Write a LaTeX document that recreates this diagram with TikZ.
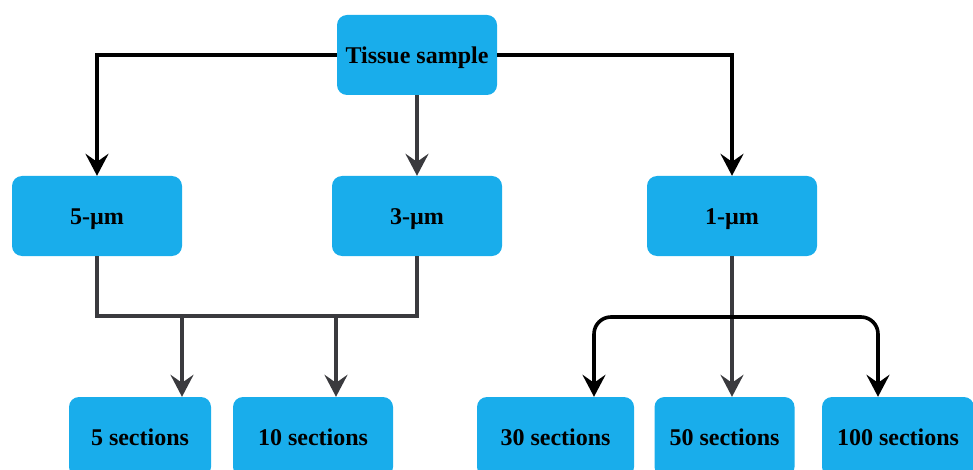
\documentclass[tikz,border=0pt]{standalone}
\usepackage{fontspec}
\setmainfont{Liberation Serif}
\usetikzlibrary{arrows.meta}
\definecolor{boxblue}{RGB}{25,173,235}
\definecolor{linegray}{RGB}{58,58,62}
\begin{document}
\begin{tikzpicture}[x=1pt,y=-1pt,
  box/.style={draw=none,fill=boxblue,rounded corners=10pt,minimum height=80pt,inner sep=0pt,
    text height=17pt,text depth=0pt,
    font=\fontsize{24}{28}\selectfont\bfseries,text=black},
  blackline/.style={draw=black,line width=3.6pt},
  grayline/.style={draw=linegray,line width=3.2pt},
  tip/.style={-{Stealth[length=22pt,width=23pt,inset=8pt]}}
]
\useasboundingbox (0,0) rectangle (973,470);
\node[box,minimum width=160pt] (tis) at (417,55) {Tissue sample};
\node[box,minimum width=170pt] (m5) at (97,216) {5-µm};
\node[box,minimum width=170pt] (m3) at (417,216) {3-µm};
\node[box,minimum width=170pt] (m1) at (732,216) {1-µm};
\node[box,minimum width=142pt] (s5) at (140,437) {5 sections};
\node[box,minimum width=160pt] (s10) at (313,437) {10 sections};
\node[box,minimum width=157pt] (s30) at (555.5,437) {30 sections};
\node[box,minimum width=140pt] (s50) at (724.5,437) {50 sections};
\node[box,minimum width=152pt] (s100) at (898,437) {100 sections};
% junction coordinates
\coordinate (jy) at (0,316);
\coordinate (d5) at (182,316);
\coordinate (d10) at (336,316);
\coordinate (j1) at (733,317);
\coordinate (l30) at (594,0);
\coordinate (r100) at (878,0);
% top level
\draw[blackline,tip] (tis.west) -| (m5.north);
\draw[grayline,tip] (tis.south) -- (m3.north);
\draw[blackline,tip] (tis.east) -| (m1.north);
% merge 5 and 3
\draw[grayline] (m5.south) -- (m5.south |- jy) -| (m3.south);
\draw[grayline,tip] (d5) -- (d5 |- s5.north);
\draw[grayline,tip] (d10) -- (d10 |- s10.north);
% 1-um branch
\draw[grayline,tip] (m1.south) -- (m1.south |- s50.north);
\draw[blackline,tip,rounded corners=17pt] (j1) -| (l30 |- s30.north);
\draw[blackline,tip,rounded corners=17pt] (j1) -| (r100 |- s100.north);
\end{tikzpicture}
\end{document}
